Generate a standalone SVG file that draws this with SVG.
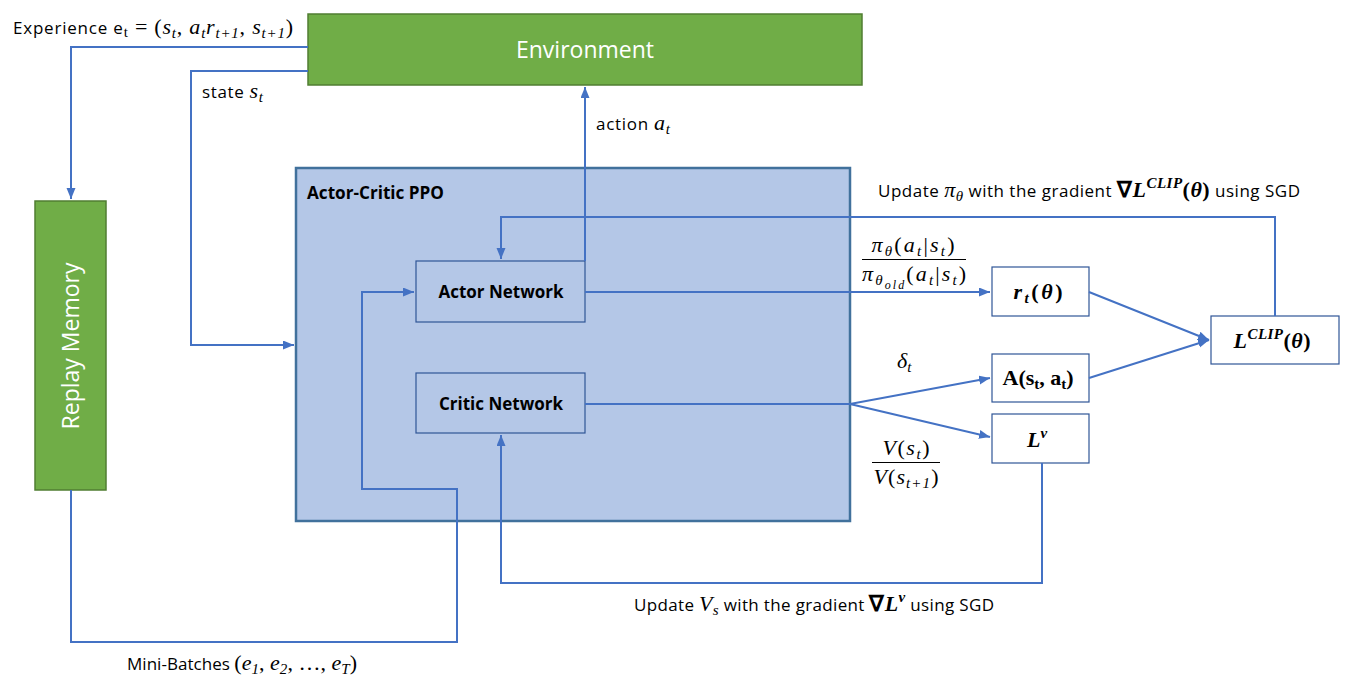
<svg xmlns="http://www.w3.org/2000/svg" width="1349" height="686" viewBox="0 0 1349 686">
<style>
.t{font-family:"Open Sans","Noto Sans",sans-serif;font-size:17px;fill:#000}
.m{font-family:"Liberation Serif",serif;font-size:22px;font-style:italic;fill:#000}
.u{font-style:normal}
.b{font-weight:bold}
.sub{font-size:15px}
.green{fill:#70AD47;stroke:#507E32;stroke-width:1.5}
.wt{font-family:"Open Sans","Noto Sans",sans-serif;font-size:23px;fill:#fff}
.node{fill:#B4C7E7;stroke:#2F5597;stroke-width:1.2}
.wnode{fill:#fff;stroke:#2F5597;stroke-width:1.2}
.nl{font-family:"Open Sans","Noto Sans",sans-serif;font-size:17px;font-weight:bold;fill:#000}
.c{fill:none;stroke:#4472C4;stroke-width:2}
</style>
<defs>
<marker id="ah" markerUnits="userSpaceOnUse" markerWidth="12" markerHeight="10" refX="11" refY="4.5" orient="auto">
<path d="M0,0 L11,4.5 L0,9 z" fill="#4472C4"/>
</marker>
</defs>
<rect width="1349" height="686" fill="#fff"/>

<g id="actor-critic-ppo">
<rect x="296" y="168" width="554" height="353" fill="#B4C7E7" stroke="#41719C" stroke-width="2.5"/>
<text x="307" y="199" class="nl" textLength="137" lengthAdjust="spacingAndGlyphs">Actor-Critic PPO</text>
</g>

<g id="environment">
<rect x="308" y="14" width="554" height="71" class="green"/>
<text x="585" y="58" class="wt" text-anchor="middle">Environment</text>
</g>

<g id="replay-memory">
<rect x="35" y="201" width="71" height="289" class="green"/>
<text transform="translate(79,346) rotate(-90)" class="wt" text-anchor="middle">Replay Memory</text>
</g>

<g id="actor-network">
<rect x="416" y="261" width="169" height="61" class="node"/>
<text x="501" y="298" class="nl" text-anchor="middle">Actor Network</text>
</g>

<g id="critic-network">
<rect x="416" y="373" width="169" height="60" class="node"/>
<text x="501" y="410" class="nl" text-anchor="middle">Critic Network</text>
</g>

<g id="ratio">
<rect x="992" y="267" width="97" height="49" class="wnode"/>
<text x="1038" y="299" class="m b" text-anchor="middle" textLength="49">r<tspan class="sub" dy="4">t</tspan><tspan dy="-4" class="u">(</tspan>θ<tspan class="u">)</tspan></text>
</g>

<g id="advantage">
<rect x="992" y="354" width="97" height="48" class="wnode"/>
<text x="1038" y="385" class="m b u" text-anchor="middle" textLength="71">A(s<tspan class="sub" dy="4">t</tspan><tspan dy="-4">, a</tspan><tspan class="sub" dy="4">t</tspan><tspan dy="-4">)</tspan></text>
</g>

<g id="value-loss">
<rect x="992" y="414" width="97" height="49" class="wnode"/>
<text x="1037" y="447" class="m b" text-anchor="middle">L<tspan class="sub" dy="-9">v</tspan></text>
</g>

<g id="clip-loss">
<rect x="1211" y="316" width="128" height="48" class="wnode"/>
<text x="1272" y="348" class="m b" text-anchor="middle" textLength="77">L<tspan class="sub" dy="-9">CLIP</tspan><tspan dy="9" class="u">(</tspan>θ<tspan class="u">)</tspan></text>
</g>

<g id="connectors">
<path class="c" d="M308,47 H71 V199" marker-end="url(#ah)"/>
<path class="c" d="M308,71 H191 V345 H294" marker-end="url(#ah)"/>
<path class="c" d="M585,261 V87" marker-end="url(#ah)"/>
<path class="c" d="M1275,316 V217 H501 V259" marker-end="url(#ah)"/>
<path class="c" d="M585,292 H990" marker-end="url(#ah)"/>
<path class="c" d="M1089,292 L1209,340" marker-end="url(#ah)"/>
<path class="c" d="M1089,378 L1209,340" marker-end="url(#ah)"/>
<path class="c" d="M585,404 H850 L990,378" marker-end="url(#ah)"/>
<path class="c" d="M850,404 L990,437" marker-end="url(#ah)"/>
<path class="c" d="M1042,463 V583 H501 V435" marker-end="url(#ah)"/>
<path class="c" d="M71,490 V642 H457 V489 H362 V292 H414" marker-end="url(#ah)"/>
</g>

<g id="labels">
<text x="13" y="34" class="t" textLength="280">Experience e<tspan class="sub" dy="3" style="font-family:'Liberation Serif',serif">t</tspan><tspan dy="-3" class="m u"> = (</tspan><tspan class="m">s</tspan><tspan class="m sub" dy="4">t</tspan><tspan class="m u" dy="-4">, </tspan><tspan class="m">a</tspan><tspan class="m sub" dy="4">t</tspan><tspan class="m" dy="-4">r</tspan><tspan class="m sub" dy="4">t+1</tspan><tspan class="m u" dy="-4">, </tspan><tspan class="m">s</tspan><tspan class="m sub" dy="4">t+1</tspan><tspan class="m u" dy="-4">)</tspan></text>

<text x="202" y="98" class="t" textLength="61">state <tspan class="m">s</tspan><tspan class="m sub" dy="4">t</tspan></text>

<text x="596" y="130" class="t" textLength="74">action <tspan class="m">a</tspan><tspan class="m sub" dy="4">t</tspan></text>

<text x="878" y="197" class="t" textLength="422">Update <tspan class="m">π</tspan><tspan class="m sub" dy="4">θ</tspan><tspan dy="-4"> with the gradient </tspan><tspan class="m b u">∇</tspan><tspan class="m b">L</tspan><tspan class="m b sub" dy="-9">CLIP</tspan><tspan class="m b u" dy="9">(</tspan><tspan class="m b">θ</tspan><tspan class="m b u">)</tspan> using SGD</text>

<text x="913" y="252" class="m" text-anchor="middle" textLength="83">π<tspan class="sub" dy="4">θ</tspan><tspan class="u" dy="-4">(</tspan>a<tspan class="sub" dy="4">t</tspan><tspan class="u" dy="-4">|</tspan>s<tspan class="sub" dy="4">t</tspan><tspan class="u" dy="-4">)</tspan></text>
<line x1="862" y1="259.5" x2="966" y2="259.5" stroke="#000" stroke-width="1"/>
<text x="914" y="281" class="m" text-anchor="middle" textLength="104">π<tspan class="sub" dy="4">θ</tspan><tspan style="font-size:12px" dy="4">old</tspan><tspan class="u" dy="-8">(</tspan>a<tspan class="sub" dy="4">t</tspan><tspan class="u" dy="-4">|</tspan>s<tspan class="sub" dy="4">t</tspan><tspan class="u" dy="-4">)</tspan></text>

<text x="897" y="368" class="m">δ<tspan class="sub" dy="4">t</tspan></text>

<text x="906" y="455" class="m" text-anchor="middle" textLength="47">V<tspan class="u">(</tspan>s<tspan class="sub" dy="4">t</tspan><tspan class="u" dy="-4">)</tspan></text>
<line x1="872" y1="462.5" x2="940" y2="462.5" stroke="#000" stroke-width="1"/>
<text x="906" y="484" class="m" text-anchor="middle" textLength="65">V<tspan class="u">(</tspan>s<tspan class="sub" dy="4">t+1</tspan><tspan class="u" dy="-4">)</tspan></text>

<text x="634" y="611" class="t" textLength="360">Update <tspan class="m">V</tspan><tspan class="m sub" dy="4">s</tspan><tspan dy="-4"> with the gradient </tspan><tspan class="m b u">∇</tspan><tspan class="m b">L</tspan><tspan class="m b sub" dy="-9">v</tspan><tspan dy="9"> using SGD</tspan></text>

<text x="127" y="670" class="t" textLength="230">Mini-Batches <tspan class="m u">(</tspan><tspan class="m">e</tspan><tspan class="m sub" dy="4">1</tspan><tspan class="m u" dy="-4">, </tspan><tspan class="m">e</tspan><tspan class="m sub" dy="4">2</tspan><tspan class="m u" dy="-4">, …, </tspan><tspan class="m">e</tspan><tspan class="m sub" dy="4">T</tspan><tspan class="m u" dy="-4">)</tspan></text>
</g>
</svg>
